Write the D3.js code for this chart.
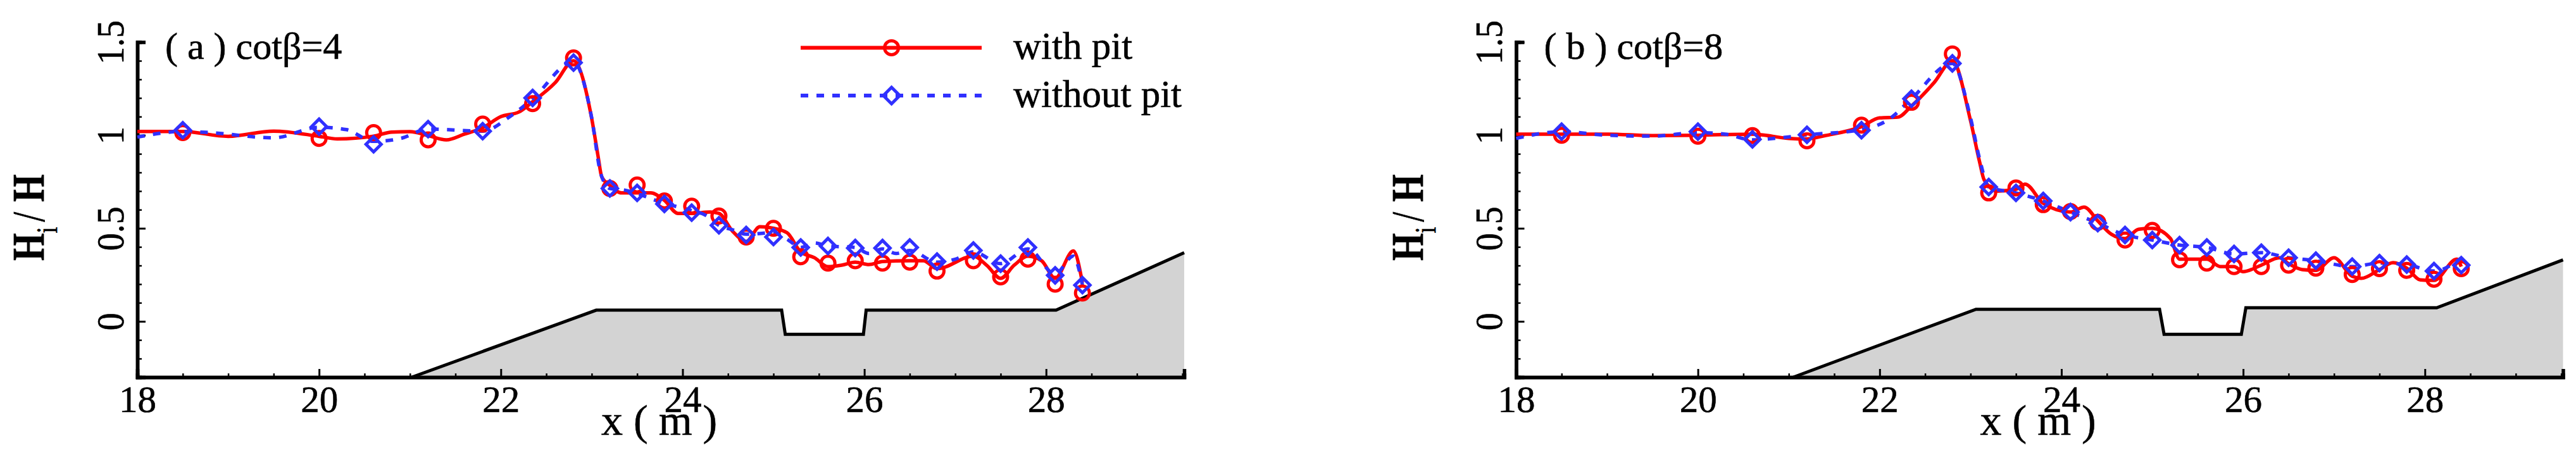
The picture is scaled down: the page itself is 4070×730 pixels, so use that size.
<!DOCTYPE html>
<html>
<head>
<meta charset="utf-8">
<script src="https://cdn.jsdelivr.net/npm/d3@7"></script>
<style>
  html, body { margin: 0; padding: 0; background: #fff; }
  text { font-family: "Liberation Serif", serif; fill: #000; stroke: #000; stroke-width: 0.6px; }
</style>
</head>
<body>
<svg id="chart" width="4070" height="730"></svg>
<script>
// marker stations, same for both panels
const stations = [18.5, 20, 20.6, 21.2, 21.8, 22.35, 22.8, 23.2, 23.5, 23.8, 24.1, 24.4, 24.7, 25, 25.3, 25.6, 25.9, 26.2, 26.5, 26.8, 27.2, 27.5, 27.8, 28.1, 28.4];

// panel a markers
const aWithMarks = [1.014, 0.983, 1.014, 0.975, 1.06, 1.17, 1.415, 0.714, 0.733, 0.647, 0.619, 0.566, 0.453, 0.5, 0.347, 0.313, 0.326, 0.313, 0.318, 0.27, 0.326, 0.239, 0.334, 0.2, 0.152];
const aWithoutMarks = [1.027, 1.046, 0.951, 1.033, 1.022, 1.2, 1.39, 0.714, 0.69, 0.631, 0.584, 0.516, 0.464, 0.453, 0.397, 0.405, 0.394, 0.394, 0.397, 0.321, 0.381, 0.31, 0.397, 0.247, 0.195];

// panel a curves
const aWithX = [18, 18.5, 19, 19.5, 20, 20.2, 20.6, 20.8, 21, 21.2, 21.4, 21.6, 21.8, 22, 22.2, 22.35, 22.6, 22.8, 23, 23.07, 23.11, 23.2, 23.33, 23.5, 23.65, 23.8, 23.95, 24.1, 24.3, 24.4, 24.55, 24.7, 24.85, 25, 25.15, 25.3, 25.45, 25.6, 25.75, 25.9, 26.05, 26.2, 26.5, 26.65, 26.8, 27.2, 27.35, 27.5, 27.65, 27.8, 27.95, 28.1, 28.3, 28.4];
const aWithY = [1.02, 1.02, 0.994, 1.022, 0.994, 0.98, 0.995, 1.017, 1.019, 0.998, 0.975, 1.006, 1.04, 1.1, 1.125, 1.18, 1.283, 1.4, 1.09, 0.887, 0.777, 0.73, 0.69, 0.69, 0.69, 0.65, 0.58, 0.58, 0.587, 0.58, 0.484, 0.429, 0.508, 0.5, 0.476, 0.373, 0.342, 0.294, 0.302, 0.318, 0.305, 0.321, 0.326, 0.326, 0.283, 0.35, 0.3, 0.231, 0.302, 0.35, 0.326, 0.231, 0.378, 0.207];
const aWithoutX = [18, 18.5, 18.8, 19.5, 20, 20.3, 20.6, 20.9, 21.2, 21.8, 22.1, 22.35, 22.8, 23, 23.1, 23.2, 23.35, 23.8, 24.1, 24.25, 24.4, 24.55, 24.7, 25, 25.15, 25.3, 25.45, 25.6, 25.9, 26.05, 26.2, 26.35, 26.5, 26.8, 27, 27.2, 27.5, 27.8, 28.1, 28.3, 28.4];
const aWithoutY = [0.99, 1.02, 1.014, 0.986, 1.043, 1.03, 0.967, 0.983, 1.033, 1.022, 1.1, 1.196, 1.394, 1.093, 0.793, 0.714, 0.706, 0.634, 0.595, 0.571, 0.516, 0.492, 0.468, 0.476, 0.441, 0.397, 0.421, 0.405, 0.397, 0.365, 0.389, 0.365, 0.381, 0.318, 0.334, 0.373, 0.31, 0.389, 0.255, 0.35, 0.195];

// panel b markers
const bWithMarks = [1.0, 0.995, 0.998, 0.97, 1.054, 1.177, 1.437, 0.69, 0.717, 0.627, 0.59, 0.532, 0.437, 0.489, 0.331, 0.313, 0.294, 0.294, 0.302, 0.286, 0.252, 0.283, 0.274, 0.226, 0.283];
const bWithoutMarks = [1.019, 1.019, 0.978, 1.002, 1.027, 1.196, 1.386, 0.722, 0.69, 0.647, 0.587, 0.528, 0.464, 0.437, 0.41, 0.397, 0.362, 0.369, 0.342, 0.326, 0.294, 0.313, 0.305, 0.27, 0.302];

// panel b curves
const bWithX = [18, 18.5, 19, 19.5, 20, 20.6, 21, 21.2, 21.4, 21.8, 22, 22.2, 22.35, 22.6, 22.8, 23, 23.1, 23.15, 23.3, 23.5, 23.6, 23.8, 24.1, 24.25, 24.4, 24.55, 24.7, 24.85, 25, 25.2, 25.3, 25.6, 25.75, 25.9, 26, 26.2, 26.4, 26.5, 26.65, 26.8, 27, 27.2, 27.3, 27.5, 27.65, 27.8, 27.95, 28.1, 28.35, 28.4];
const bWithY = [1.006, 1.006, 1.006, 0.998, 1.0, 1.006, 0.983, 0.98, 0.998, 1.046, 1.093, 1.097, 1.157, 1.283, 1.4, 1.078, 0.856, 0.76, 0.7, 0.71, 0.737, 0.634, 0.587, 0.614, 0.54, 0.468, 0.445, 0.495, 0.5, 0.445, 0.334, 0.334, 0.294, 0.294, 0.267, 0.302, 0.342, 0.31, 0.278, 0.274, 0.342, 0.242, 0.231, 0.278, 0.315, 0.286, 0.223, 0.22, 0.334, 0.294];
const bWithoutX = [18, 18.5, 19, 19.5, 20, 20.3, 20.6, 20.9, 21.2, 21.8, 22.1, 22.35, 22.8, 23, 23.1, 23.2, 23.5, 23.8, 24.1, 24.4, 24.7, 25, 25.3, 25.6, 25.9, 26.2, 26.5, 26.8, 27.2, 27.5, 27.8, 28.1, 28.4];
const bWithoutY = [0.983, 1.019, 1.0, 0.995, 1.014, 1.006, 0.975, 0.986, 1.002, 1.03, 1.085, 1.196, 1.386, 1.093, 0.872, 0.722, 0.69, 0.647, 0.587, 0.528, 0.464, 0.437, 0.41, 0.397, 0.362, 0.369, 0.342, 0.326, 0.294, 0.313, 0.305, 0.27, 0.34];

// sea bed profile
const aBedX = [21.02, 23.05, 25.09, 25.13, 25.99, 26.02, 28.11, 29.52];
const aBedY = [-0.3, 0.06, 0.06, -0.07, -0.07, 0.06, 0.06, 0.369];
const bBedX = [21.05, 23.06, 25.08, 25.13, 25.98, 26.03, 28.13, 29.52];
const bBedY = [-0.3, 0.065, 0.065, -0.07, -0.07, 0.073, 0.073, 0.33];

const xTicks = [18, 20, 22, 24, 26, 28];
const xMinorTicks = [18.5, 19, 19.5, 20.5, 21, 21.5, 22.5, 23, 23.5, 24.5, 25, 25.5, 26.5, 27, 27.5, 28.5, 29, 29.5];
const yTicks = [0, 0.5, 1, 1.5];
const yMinorTicks = [-0.2, -0.1, 0.1, 0.2, 0.3, 0.4, 0.6, 0.7, 0.8, 0.9, 1.1, 1.2, 1.3, 1.4];
const seriesNames = ["with pit", "without pit"];

const red = "#ff0000", blue = "#3030ff";
const svg = d3.select("#chart");
const top_ = 66.6, bottom = 596, panelWidth = 1654;

const zip = (xs, ys) => xs.map((x, i) => [x, ys[i]]);

function diamond(g, cx, cy, h = 12) {
  g.append("path")
    .attr("d", `M${cx},${cy - h}L${cx + h},${cy}L${cx},${cy + h}L${cx - h},${cy}Z`)
    .attr("fill", "none").attr("stroke", blue).attr("stroke-width", 5);
}
function circle(g, cx, cy) {
  g.append("circle")
    .attr("cx", cx).attr("cy", cy).attr("r", 11)
    .attr("fill", "none").attr("stroke", red).attr("stroke-width", 5);
}

function drawPanel(left, label, p) {
  const g = svg.append("g").attr("transform", `translate(${left},0)`);
  const x = d3.scaleLinear().domain([18, 29.52]).range([0, panelWidth]);
  const y = d3.scaleLinear().domain([-0.3, 1.5]).range([bottom, top_]);

  const line = d3.line().x(d => x(d[0])).y(d => y(d[1])).curve(d3.curveMonotoneX);

  // bed
  const bed = zip(p.bedX, p.bedY);
  const area = d3.area().x(d => x(d[0])).y0(y(-0.3)).y1(d => y(d[1]));
  g.append("path").datum(bed).attr("d", area).attr("fill", "#d3d3d3");
  g.append("path").datum(bed)
    .attr("d", d3.line().x(d => x(d[0])).y(d => y(d[1])))
    .attr("fill", "none").attr("stroke", "#000").attr("stroke-width", 5);

  // axes
  const xAxis = g.append("g").attr("transform", `translate(0,${bottom})`)
    .call(d3.axisBottom(x).tickValues(xTicks).tickFormat(d3.format("d")).tickSize(-13).tickPadding(13));
  g.append("g").attr("transform", `translate(0,${bottom})`)
    .call(d3.axisBottom(x).tickValues(xMinorTicks).tickFormat("").tickSize(-6));
  const yAxis = g.append("g")
    .call(d3.axisLeft(y).tickValues(yTicks).tickFormat(d => String(d)).tickSize(-13));
  g.append("g")
    .call(d3.axisLeft(y).tickValues(yMinorTicks).tickFormat("").tickSize(-7));

  g.selectAll(".domain").attr("stroke", "#000").attr("stroke-width", 5.5);
  g.selectAll(".tick line").attr("stroke", "#000").attr("stroke-width", 2.5);
  xAxis.selectAll(".tick line").attr("stroke-width", 3);
  yAxis.selectAll(".tick line").attr("stroke-width", 3);
  xAxis.selectAll("text").style("font-size", "59px").style("font-family", "Liberation Serif");
  yAxis.selectAll("text")
    .style("font-size", "56px").style("font-family", "Liberation Serif")
    .attr("x", null).attr("dy", null).attr("text-anchor", "middle")
    .attr("transform", "translate(-22.5,0) rotate(-90) scale(1,1.1)");

  // curves
  g.append("path").datum(zip(p.withX, p.withY)).attr("d", line)
    .attr("fill", "none").attr("stroke", red).attr("stroke-width", 5.5);
  g.append("path").datum(zip(p.withoutX, p.withoutY)).attr("d", line)
    .attr("fill", "none").attr("stroke", blue).attr("stroke-width", 5.5)
    .attr("stroke-dasharray", "12 13");

  // markers
  stations.forEach((s, i) => circle(g, x(s), y(p.withMarks[i])));
  stations.forEach((s, i) => diamond(g, x(s), y(p.withoutMarks[i])));

  // panel note
  g.append("text").attr("x", 44).attr("y", 93).style("font-size", "60px")
    .attr("xml:space", "preserve").text(label);

  // axis titles
  g.append("text").attr("x", 733).attr("y", 687).style("font-size", "68px")
    .attr("xml:space", "preserve").text("x ( m )");
  const yTitle = g.append("text")
    .attr("transform", `translate(-148,412) rotate(-90) scale(1,1.3)`)
    .style("font-size", "56px").attr("xml:space", "preserve");
  yTitle.append("tspan").style("font-weight", "bold").text("H");
  yTitle.append("tspan").attr("dy", 16).style("font-size", "36px").text("i");
  yTitle.append("tspan").attr("dy", -16).attr("dx", 8).text("/");
  yTitle.append("tspan").attr("dx", 16).style("font-weight", "bold").text("H");
}

drawPanel(217, "( a ) cotβ=4", {
  withX: aWithX, withY: aWithY, withoutX: aWithoutX, withoutY: aWithoutY,
  withMarks: aWithMarks, withoutMarks: aWithoutMarks, bedX: aBedX, bedY: aBedY
});
drawPanel(2395.5, "( b ) cotβ=8", {
  withX: bWithX, withY: bWithY, withoutX: bWithoutX, withoutY: bWithoutY,
  withMarks: bWithMarks, withoutMarks: bWithoutMarks, bedX: bBedX, bedY: bBedY
});

// legend, only on the first panel
const legend = svg.append("g");
[75.4, 151].forEach((ly, i) => {
  legend.append("line").attr("x1", 1265).attr("x2", 1551).attr("y1", ly).attr("y2", ly)
    .attr("stroke", i ? blue : red).attr("stroke-width", 6)
    .attr("stroke-dasharray", i ? "12 13" : null);
  if (i) diamond(legend, 1408.6, ly, 13); else circle(legend, 1408.6, ly);
  legend.append("text").attr("x", 1601).attr("y", ly + 17.5).style("font-size", "61px").text(seriesNames[i]);
});
</script>
</body>
</html>
